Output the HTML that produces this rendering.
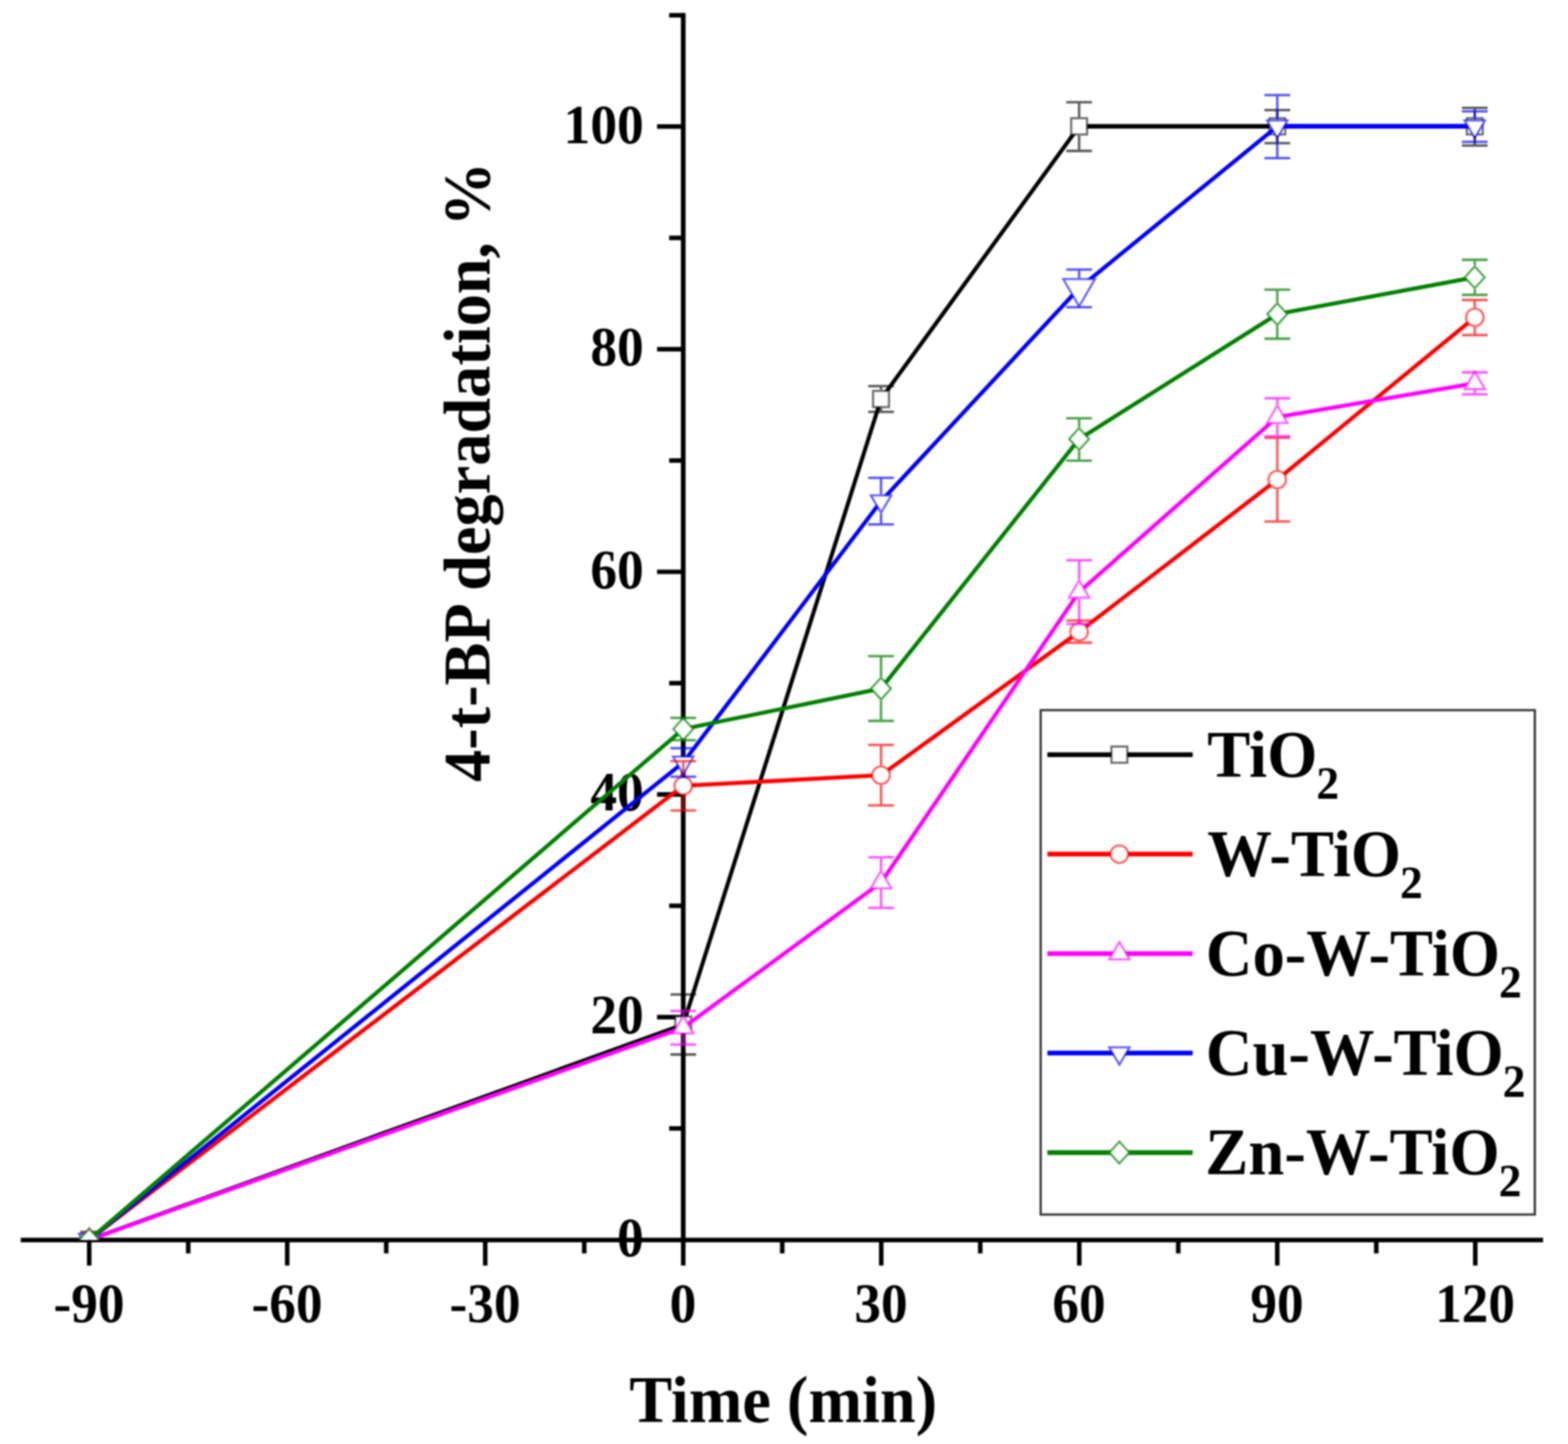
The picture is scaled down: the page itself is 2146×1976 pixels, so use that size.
<!DOCTYPE html>
<html lang="en"><head><meta charset="utf-8"><title>4-t-BP degradation vs time</title>
<style>
html,body{margin:0;padding:0;background:#fff;}
body{width:2146px;height:1976px;overflow:hidden;}
svg{display:block;filter:blur(0.9px);}
text{font-family:"Liberation Serif","DejaVu Serif",serif;font-weight:bold;fill:#000;}
.tk{font-size:75.5px;}
.ti{font-size:90.2px;}
.lg{font-size:90.4px;}
.sub{font-size:64px;}
</style></head><body>
<svg width="2146" height="1976" viewBox="0 0 2146 1976">
<rect x="0" y="0" width="2146" height="1976" fill="#ffffff"/>
<defs><clipPath id="plotclip"><rect x="0" y="0" width="2146" height="1696.5"/></clipPath></defs>
<g id="axes" stroke="#000" fill="none" stroke-linecap="butt">
<line x1="935.1" y1="17.77" x2="935.1" y2="1696.5" stroke-width="6.4"/>
<line x1="915.8" y1="1544.17" x2="935.1" y2="1544.17" stroke-width="6.2"/>
<line x1="899.3" y1="1391.84" x2="935.1" y2="1391.84" stroke-width="6.2"/>
<line x1="915.8" y1="1239.51" x2="935.1" y2="1239.51" stroke-width="6.2"/>
<line x1="899.3" y1="1087.18" x2="935.1" y2="1087.18" stroke-width="6.2"/>
<line x1="915.8" y1="934.85" x2="935.1" y2="934.85" stroke-width="6.2"/>
<line x1="899.3" y1="782.52" x2="935.1" y2="782.52" stroke-width="6.2"/>
<line x1="915.8" y1="630.19" x2="935.1" y2="630.19" stroke-width="6.2"/>
<line x1="899.3" y1="477.86" x2="935.1" y2="477.86" stroke-width="6.2"/>
<line x1="915.8" y1="325.53" x2="935.1" y2="325.53" stroke-width="6.2"/>
<line x1="899.3" y1="173.20" x2="935.1" y2="173.20" stroke-width="6.2"/>
<line x1="915.8" y1="20.87" x2="935.1" y2="20.87" stroke-width="6.2"/>
<line x1="28.4" y1="1696.9" x2="2111.9" y2="1696.9" stroke-width="6.4"/>
<line x1="122.10" y1="1696.5" x2="122.10" y2="1731.8" stroke-width="6.2"/>
<line x1="257.60" y1="1696.5" x2="257.60" y2="1715.2" stroke-width="6.2"/>
<line x1="393.10" y1="1696.5" x2="393.10" y2="1731.8" stroke-width="6.2"/>
<line x1="528.60" y1="1696.5" x2="528.60" y2="1715.2" stroke-width="6.2"/>
<line x1="664.10" y1="1696.5" x2="664.10" y2="1731.8" stroke-width="6.2"/>
<line x1="799.60" y1="1696.5" x2="799.60" y2="1715.2" stroke-width="6.2"/>
<line x1="935.10" y1="1696.5" x2="935.10" y2="1731.8" stroke-width="6.2"/>
<line x1="1070.60" y1="1696.5" x2="1070.60" y2="1715.2" stroke-width="6.2"/>
<line x1="1206.10" y1="1696.5" x2="1206.10" y2="1731.8" stroke-width="6.2"/>
<line x1="1341.60" y1="1696.5" x2="1341.60" y2="1715.2" stroke-width="6.2"/>
<line x1="1477.10" y1="1696.5" x2="1477.10" y2="1731.8" stroke-width="6.2"/>
<line x1="1612.60" y1="1696.5" x2="1612.60" y2="1715.2" stroke-width="6.2"/>
<line x1="1748.10" y1="1696.5" x2="1748.10" y2="1731.8" stroke-width="6.2"/>
<line x1="1883.60" y1="1696.5" x2="1883.60" y2="1715.2" stroke-width="6.2"/>
<line x1="2019.10" y1="1696.5" x2="2019.10" y2="1731.8" stroke-width="6.2"/>
</g>
<g id="ylabels" text-anchor="end">
<text class="tk" transform="translate(881.0,1718.80) scale(0.968,1)">0</text>
<text class="tk" transform="translate(881.0,1414.14) scale(0.968,1)">20</text>
<text class="tk" transform="translate(881.0,1109.48) scale(0.968,1)">40</text>
<text class="tk" transform="translate(881.0,804.82) scale(0.968,1)">60</text>
<text class="tk" transform="translate(881.0,500.16) scale(0.968,1)">80</text>
<text class="tk" transform="translate(881.0,195.50) scale(0.968,1)">100</text>
</g>
<g id="xlabels" text-anchor="middle">
<text class="tk" transform="translate(121.80,1808.6) scale(0.965,1)">-90</text>
<text class="tk" transform="translate(392.80,1808.6) scale(0.965,1)">-60</text>
<text class="tk" transform="translate(663.80,1808.6) scale(0.965,1)">-30</text>
<text class="tk" transform="translate(934.80,1808.6) scale(0.965,1)">0</text>
<text class="tk" transform="translate(1205.80,1808.6) scale(0.965,1)">30</text>
<text class="tk" transform="translate(1476.80,1808.6) scale(0.965,1)">60</text>
<text class="tk" transform="translate(1747.80,1808.6) scale(0.965,1)">90</text>
<text class="tk" transform="translate(2018.80,1808.6) scale(0.965,1)">120</text>
</g>
<text class="ti" text-anchor="middle" transform="translate(1071.8,1946.4) scale(0.976,1)">Time (min)</text>
<text class="ti" text-anchor="middle" transform="translate(670.3,645.8) rotate(-90) scale(0.976,1)">4-t-BP degradation, %</text>
<g id="data" clip-path="url(#plotclip)">
<g id="s-TiO2">
<path d="M122.10 1696.50L935.10 1402.00M935.10 1402.00L1205.80 546.00M1205.80 546.00L1476.90 172.90" fill="none" stroke="#000000" stroke-width="5.5" stroke-linecap="round"/>
<path d="M1476.90 172.90L1748.10 172.90M1748.10 172.90L2018.40 172.90" fill="none" stroke="#000000" stroke-width="6.4"/>
<rect x="111.20" y="1685.40" width="21.80" height="22.20" fill="#fff" stroke="#000000" stroke-opacity="0.6" stroke-width="2.8"/>
<rect x="924.20" y="1390.90" width="21.80" height="22.20" fill="#fff" stroke="#000000" stroke-opacity="0.6" stroke-width="2.8"/>
<rect x="1194.90" y="534.90" width="21.80" height="22.20" fill="#fff" stroke="#000000" stroke-opacity="0.6" stroke-width="2.8"/>
<rect x="1466.00" y="161.80" width="21.80" height="22.20" fill="#fff" stroke="#000000" stroke-opacity="0.6" stroke-width="2.8"/>
<rect x="1737.20" y="161.80" width="21.80" height="22.20" fill="#fff" stroke="#000000" stroke-opacity="0.6" stroke-width="2.8"/>
<rect x="2007.50" y="161.80" width="21.80" height="22.20" fill="#fff" stroke="#000000" stroke-opacity="0.6" stroke-width="2.8"/>
</g>
<g id="s-W-TiO2">
<path d="M122.10 1696.50L935.10 1075.30M935.10 1075.30L1205.80 1060.80M1205.80 1060.80L1476.90 864.50M1476.90 864.50L1748.10 656.30M1748.10 656.30L2018.40 434.30" fill="none" stroke="#ff0000" stroke-width="5.5" stroke-linecap="round"/>
<circle cx="122.10" cy="1696.50" r="12.00" fill="#fff" stroke="#ff0000" stroke-opacity="0.64" stroke-width="2.8"/>
<circle cx="935.10" cy="1075.30" r="12.00" fill="#fff" stroke="#ff0000" stroke-opacity="0.64" stroke-width="2.8"/>
<circle cx="1205.80" cy="1060.80" r="12.00" fill="#fff" stroke="#ff0000" stroke-opacity="0.64" stroke-width="2.8"/>
<circle cx="1476.90" cy="864.50" r="12.00" fill="#fff" stroke="#ff0000" stroke-opacity="0.64" stroke-width="2.8"/>
<circle cx="1748.10" cy="656.30" r="12.00" fill="#fff" stroke="#ff0000" stroke-opacity="0.64" stroke-width="2.8"/>
<circle cx="2018.40" cy="434.30" r="12.00" fill="#fff" stroke="#ff0000" stroke-opacity="0.64" stroke-width="2.8"/>
</g>
<g id="s-Co-W-TiO2">
<path d="M122.10 1696.50L935.10 1406.20M935.10 1406.20L1205.80 1207.60M1205.80 1207.60L1476.90 810.00M1476.90 810.00L1748.10 570.80M1748.10 570.80L2018.40 524.50" fill="none" stroke="#ff00ff" stroke-width="5.5" stroke-linecap="round"/>
<polygon points="108.10,1704.50 136.10,1704.50 122.10,1680.50" fill="#fff" stroke="#ff00ff" stroke-opacity="0.64" stroke-width="2.8"/>
<polygon points="921.10,1414.20 949.10,1414.20 935.10,1390.20" fill="#fff" stroke="#ff00ff" stroke-opacity="0.64" stroke-width="2.8"/>
<polygon points="1191.80,1215.60 1219.80,1215.60 1205.80,1191.60" fill="#fff" stroke="#ff00ff" stroke-opacity="0.64" stroke-width="2.8"/>
<polygon points="1462.90,818.00 1490.90,818.00 1476.90,794.00" fill="#fff" stroke="#ff00ff" stroke-opacity="0.64" stroke-width="2.8"/>
<polygon points="1734.10,578.80 1762.10,578.80 1748.10,554.80" fill="#fff" stroke="#ff00ff" stroke-opacity="0.64" stroke-width="2.8"/>
<polygon points="2004.40,532.50 2032.40,532.50 2018.40,508.50" fill="#fff" stroke="#ff00ff" stroke-opacity="0.64" stroke-width="2.8"/>
</g>
<g id="s-Cu-W-TiO2">
<path d="M122.10 1696.50L935.10 1043.40M935.10 1043.40L1205.80 685.80M1205.80 685.80L1476.90 394.30M1476.90 394.30L1748.10 172.90" fill="none" stroke="#0000ff" stroke-width="5.5" stroke-linecap="round"/>
<path d="M1748.10 172.90L2018.40 172.90" fill="none" stroke="#0000ff" stroke-width="6.4"/>
<polygon points="108.10,1688.50 136.10,1688.50 122.10,1712.50" fill="#fff" stroke="#0000ff" stroke-opacity="0.64" stroke-width="2.8"/>
<polygon points="921.10,1035.40 949.10,1035.40 935.10,1059.40" fill="#fff" stroke="#0000ff" stroke-opacity="0.64" stroke-width="2.8"/>
<polygon points="1191.80,677.80 1219.80,677.80 1205.80,701.80" fill="#fff" stroke="#0000ff" stroke-opacity="0.64" stroke-width="2.8"/>
<polygon points="1455.20,381.90 1498.60,381.90 1476.90,419.10" fill="#fff" stroke="#0000ff" stroke-opacity="0.64" stroke-width="2.8"/>
<polygon points="1734.10,164.90 1762.10,164.90 1748.10,188.90" fill="#fff" stroke="#0000ff" stroke-opacity="0.64" stroke-width="2.8"/>
<polygon points="2004.40,164.90 2032.40,164.90 2018.40,188.90" fill="#fff" stroke="#0000ff" stroke-opacity="0.64" stroke-width="2.8"/>
</g>
<g id="s-Zn-W-TiO2">
<path d="M122.10 1696.50L935.10 997.60M935.10 997.60L1205.80 942.30M1205.80 942.30L1476.90 600.80M1476.90 600.80L1748.10 429.80M1748.10 429.80L2018.40 379.50" fill="none" stroke="#008000" stroke-width="5.5" stroke-linecap="round"/>
<polygon points="108.50,1696.50 122.10,1681.50 135.70,1696.50 122.10,1711.50" fill="#fff" stroke="#008000" stroke-opacity="0.7" stroke-width="2.8"/>
<polygon points="921.50,997.60 935.10,982.60 948.70,997.60 935.10,1012.60" fill="#fff" stroke="#008000" stroke-opacity="0.7" stroke-width="2.8"/>
<polygon points="1192.20,942.30 1205.80,927.30 1219.40,942.30 1205.80,957.30" fill="#fff" stroke="#008000" stroke-opacity="0.7" stroke-width="2.8"/>
<polygon points="1463.30,600.80 1476.90,585.80 1490.50,600.80 1476.90,615.80" fill="#fff" stroke="#008000" stroke-opacity="0.7" stroke-width="2.8"/>
<polygon points="1734.50,429.80 1748.10,414.80 1761.70,429.80 1748.10,444.80" fill="#fff" stroke="#008000" stroke-opacity="0.7" stroke-width="2.8"/>
<polygon points="2004.80,379.50 2018.40,364.50 2032.00,379.50 2018.40,394.50" fill="#fff" stroke="#008000" stroke-opacity="0.7" stroke-width="2.8"/>
</g>
</g>
<g id="errorbars" fill="none">
<path id="e-TiO2" d="M935.10 1360.90V1389.50M935.10 1414.50V1443.00M917.50 1360.90H952.70M917.50 1443.00H952.70M1205.80 528.40V533.50M1205.80 558.50V563.60M1188.20 528.40H1223.40M1188.20 563.60H1223.40M1476.90 139.90V160.40M1476.90 185.40V206.50M1459.30 139.90H1494.50M1459.30 206.50H1494.50M1748.10 150.70V160.40M1748.10 185.40V195.80M1730.50 150.70H1765.70M1730.50 195.80H1765.70M2018.40 147.60V160.40M2018.40 185.40V199.20M2000.80 147.60H2036.00M2000.80 199.20H2036.00" stroke="#000000" stroke-opacity="0.66" stroke-width="3.3"/>
<path id="e-W-TiO2" d="M935.10 1041.60V1061.90M935.10 1088.70V1109.20M917.50 1041.60H952.70M917.50 1109.20H952.70M1205.80 1019.40V1047.40M1205.80 1074.20V1102.10M1188.20 1019.40H1223.40M1188.20 1102.10H1223.40M1476.90 849.20V851.10M1476.90 877.90V879.50M1459.30 849.20H1494.50M1459.30 879.50H1494.50M1748.10 599.20V642.90M1748.10 669.70V713.60M1730.50 599.20H1765.70M1730.50 713.60H1765.70M2018.40 410.50V420.90M2018.40 447.70V458.50M2000.80 410.50H2036.00M2000.80 458.50H2036.00" stroke="#ff0000" stroke-opacity="0.68" stroke-width="3.3"/>
<path id="e-Co-W-TiO2" d="M935.10 1383.30V1388.80M935.10 1415.60V1429.40M917.50 1383.30H952.70M917.50 1429.40H952.70M1205.80 1173.20V1190.20M1205.80 1217.00V1242.40M1188.20 1173.20H1223.40M1188.20 1242.40H1223.40M1476.90 766.70V792.60M1476.90 819.40V853.80M1459.30 766.70H1494.50M1459.30 853.80H1494.50M1748.10 545.00V553.40M1748.10 580.20V597.00M1730.50 545.00H1765.70M1730.50 597.00H1765.70M2018.40 533.90V539.60M2000.80 509.50H2036.00M2000.80 539.60H2036.00" stroke="#ff00ff" stroke-opacity="0.68" stroke-width="3.3"/>
<path id="e-Cu-W-TiO2" d="M935.10 1023.80V1034.00M935.10 1060.80V1062.80M917.50 1023.80H952.70M917.50 1062.80H952.70M1205.80 653.90V676.40M1205.80 703.20V717.60M1188.20 653.90H1223.40M1188.20 717.60H1223.40M1476.90 368.80V380.50M1459.30 368.80H1494.50M1459.30 420.30H1494.50M1748.10 130.10V163.50M1748.10 190.30V216.40M1730.50 130.10H1765.70M1730.50 216.40H1765.70M2018.40 152.30V163.50M2018.40 190.30V194.20M2000.80 152.30H2036.00M2000.80 194.20H2036.00" stroke="#0000ff" stroke-opacity="0.68" stroke-width="3.3"/>
<path id="e-Zn-W-TiO2" d="M917.50 982.40H952.70M917.50 1012.90H952.70M1205.80 897.90V925.90M1205.80 958.70V986.50M1188.20 897.90H1223.40M1188.20 986.50H1223.40M1476.90 572.30V584.40M1476.90 617.20V630.30M1459.30 572.30H1494.50M1459.30 630.30H1494.50M1748.10 396.40V413.40M1748.10 446.20V463.50M1730.50 396.40H1765.70M1730.50 463.50H1765.70M2018.40 355.50V363.10M2018.40 395.90V403.50M2000.80 355.50H2036.00M2000.80 403.50H2036.00" stroke="#008000" stroke-opacity="0.72" stroke-width="3.3"/>
</g>
<rect id="legend" x="1424.3" y="971.8" width="676.30" height="690.20" fill="#fff" stroke="#303030" stroke-width="3"/>
<line x1="1433.5" y1="1032.70" x2="1632.3" y2="1032.70" stroke="#000000" stroke-width="6.4"/>
<rect x="1521.10" y="1021.60" width="21.80" height="22.20" fill="#fff" stroke="#000000" stroke-opacity="0.6" stroke-width="2.8"/>
<text class="lg" transform="translate(1652.2,1062.50) scale(0.978,1)">TiO<tspan class="sub" dx="-1.5" dy="30.2">2</tspan></text>
<line x1="1433.5" y1="1168.82" x2="1632.3" y2="1168.82" stroke="#ff0000" stroke-width="6.4"/>
<circle cx="1532.00" cy="1168.82" r="12.00" fill="#fff" stroke="#ff0000" stroke-opacity="0.64" stroke-width="2.8"/>
<text class="lg" transform="translate(1652.2,1198.62) scale(0.978,1)">W-TiO<tspan class="sub" dx="-1.5" dy="30.2">2</tspan></text>
<line x1="1433.5" y1="1304.94" x2="1632.3" y2="1304.94" stroke="#ff00ff" stroke-width="6.4"/>
<polygon points="1518.00,1312.94 1546.00,1312.94 1532.00,1288.94" fill="#fff" stroke="#ff00ff" stroke-opacity="0.64" stroke-width="2.8"/>
<text class="lg" transform="translate(1650.3,1334.74) scale(0.978,1)">Co-W-TiO<tspan class="sub" dx="-1.5" dy="30.2">2</tspan></text>
<line x1="1433.5" y1="1441.06" x2="1632.3" y2="1441.06" stroke="#0000ff" stroke-width="6.4"/>
<polygon points="1518.00,1433.06 1546.00,1433.06 1532.00,1457.06" fill="#fff" stroke="#0000ff" stroke-opacity="0.64" stroke-width="2.8"/>
<text class="lg" transform="translate(1650.3,1470.86) scale(0.978,1)">Cu-W-TiO<tspan class="sub" dx="-1.5" dy="30.2">2</tspan></text>
<line x1="1433.5" y1="1577.18" x2="1632.3" y2="1577.18" stroke="#008000" stroke-width="6.4"/>
<polygon points="1518.40,1577.18 1532.00,1562.18 1545.60,1577.18 1532.00,1592.18" fill="#fff" stroke="#008000" stroke-opacity="0.7" stroke-width="2.8"/>
<text class="lg" transform="translate(1649.6,1606.98) scale(0.978,1)">Zn-W-TiO<tspan class="sub" dx="-1.5" dy="30.2">2</tspan></text>
</svg>
</body></html>
